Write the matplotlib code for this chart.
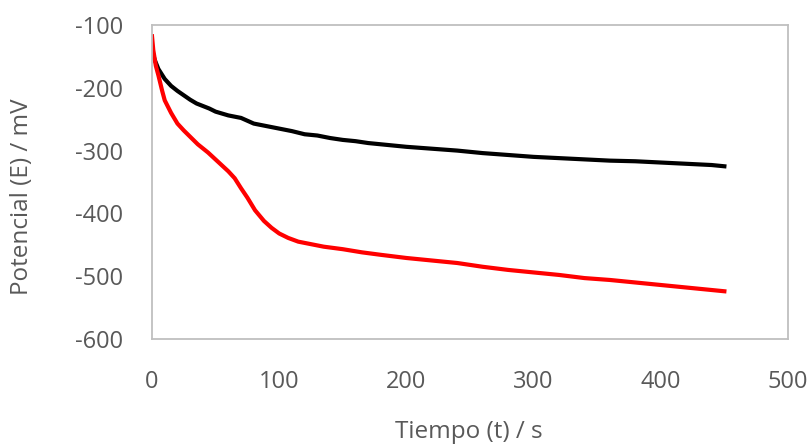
import matplotlib
matplotlib.use("Agg")
import matplotlib.pyplot as plt

black_t = [0, 2, 5, 10, 15, 20, 25, 30, 35, 40, 45, 50, 55, 60, 70, 80, 90, 100, 110, 120,
           130, 140, 150, 160, 170, 180, 190, 200, 220, 240, 260, 280, 300, 320, 340, 360,
           380, 400, 420, 440, 450]
black_e = [-140, -155, -170, -186, -197, -205, -212, -219, -225, -229, -233, -238, -241, -244,
           -248, -257, -261, -265, -269, -274, -276, -280, -283, -285, -288, -290, -292, -294,
           -297, -300, -304, -307, -310, -312, -314, -316, -317, -319, -321, -323, -325]

red_t = [0, 1, 3, 5, 8, 10, 15, 20, 25, 30, 36, 44, 52, 60, 65, 70, 75, 81, 88, 94, 100, 107,
         115, 125, 135, 150, 165, 180, 200, 220, 240, 260, 280, 300, 320, 340, 360, 380, 400,
         420, 440, 450]
red_e = [-118, -140, -165, -180, -205, -220, -240, -257, -268, -278, -290, -303, -318, -333,
         -344, -360, -375, -395, -412, -423, -432, -439, -445, -449, -453, -457, -462, -466,
         -471, -475, -479, -485, -490, -494, -498, -503, -506, -510, -514, -518, -522, -524]

x_ticks = [0, 100, 200, 300, 400, 500]
y_ticks = [-600, -500, -400, -300, -200, -100]

plt.rcParams['font.family'] = ['Open Sans', 'DejaVu Sans']

fig = plt.figure(figsize=(8.09, 4.46), dpi=100)
ax = fig.add_axes([0.1879, 0.2399, 0.974 - 0.1879, 0.944 - 0.2399])

ax.plot(black_t, black_e, color='black', lw=3.0, solid_joinstyle='round')
ax.plot(red_t, red_e, color='#FF0000', lw=3.0, solid_joinstyle='round')

ax.set_xlim(0, 500)
ax.set_ylim(-600, -100)
ax.set_xticks(x_ticks)
ax.set_yticks(y_ticks)
ax.set_xticklabels([str(v) for v in x_ticks])
ax.set_yticklabels([str(v).replace('\u2212', '-') for v in y_ticks])
ax.tick_params(axis='y', length=0, labelsize=17, labelcolor='#595959', pad=21)
ax.tick_params(axis='x', length=0, labelsize=17, labelcolor='#595959', pad=22)
for s in ax.spines.values():
    s.set_color('#BFBFBF')
    s.set_linewidth(1.3)

fig.text(0.58, 0.005, 'Tiempo (t) / s', ha='center', va='bottom', fontsize=17.5, color='#595959')
fig.text(0.012, 0.558, 'Potencial (E) / mV', ha='left', va='center', rotation=90,
         fontsize=17.5, color='#595959')

fig.savefig('out.png', dpi=100)
